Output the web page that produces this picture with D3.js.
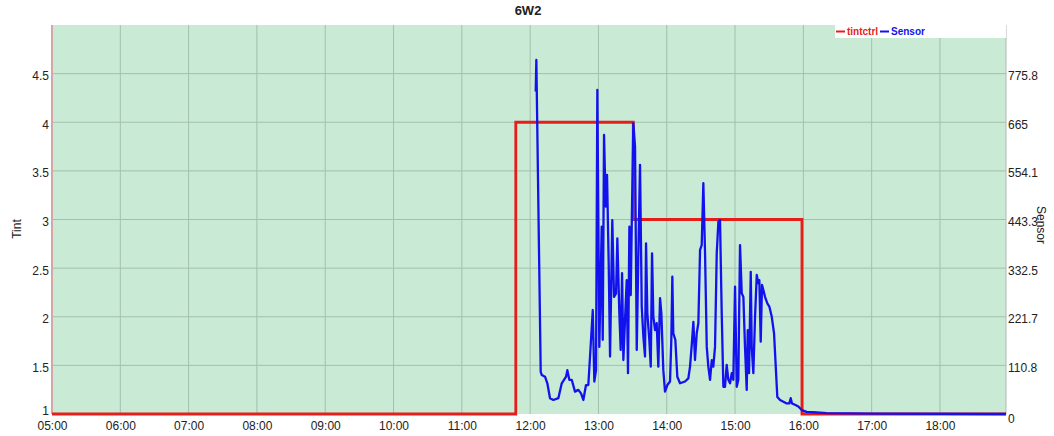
<!DOCTYPE html>
<html>
<head>
<meta charset="utf-8">
<script src="https://cdn.jsdelivr.net/npm/d3@7"></script>
<style>
    body { margin: 0; background: #fff; }
    text { font-family: "Liberation Sans", Arial, sans-serif; }
</style>
</head>
<body>
<div id="grafico"></div>
<script>
// horas del eje x (decimal) y sus etiquetas
var horas = [5, 6, 7, 8, 9, 10, 11, 12, 13, 14, 15, 16, 17, 18];
var etiquetasHoras = ["05:00", "06:00", "07:00", "08:00", "09:00", "10:00", "11:00", "12:00", "13:00", "14:00", "15:00", "16:00", "17:00", "18:00"];

var ticksTint = [1, 1.5, 2, 2.5, 3, 3.5, 4, 4.5];
var ticksSensor = [0, 110.8, 221.7, 332.5, 443.3, 554.1, 665, 775.8];

// tintctrl (escalonado)
var tintTiempos = [5, 11.79, 13.51, 15.98, 18.967];
var tintValores = [1, 4, 3, 1, 1];

// Sensor
var sensorTiempos = [12.082, 12.091, 12.155, 12.170, 12.218, 12.252, 12.291, 12.340, 12.413, 12.463,
    12.526, 12.545, 12.574, 12.609, 12.657, 12.706, 12.745, 12.779, 12.818, 12.852,
    12.877, 12.917, 12.940, 12.965, 12.984, 13.013, 13.048, 13.063, 13.082, 13.107,
    13.126, 13.151, 13.170, 13.203, 13.228, 13.258, 13.277, 13.306, 13.326, 13.346,
    13.365, 13.389, 13.414, 13.433, 13.453, 13.473, 13.488, 13.511, 13.536, 13.561,
    13.584, 13.609, 13.634, 13.658, 13.682, 13.697, 13.716, 13.745, 13.766, 13.785,
    13.804, 13.829, 13.853, 13.877, 13.902, 13.921, 13.950, 13.975, 14.009, 14.048,
    14.067, 14.082, 14.096, 14.126, 14.155, 14.195, 14.268, 14.316, 14.341, 14.366,
    14.390, 14.414, 14.439, 14.463, 14.488, 14.512, 14.536, 14.561, 14.586, 14.609,
    14.634, 14.659, 14.682, 14.707, 14.732, 14.756, 14.780, 14.805, 14.829, 14.853,
    14.878, 14.902, 14.927, 14.952, 14.975, 15.000, 15.025, 15.048, 15.073, 15.098,
    15.122, 15.146, 15.171, 15.186, 15.205, 15.230, 15.244, 15.268, 15.293, 15.318,
    15.341, 15.356, 15.376, 15.395, 15.414, 15.439, 15.473, 15.502, 15.537, 15.571,
    15.596, 15.619, 15.659, 15.757, 15.795, 15.815, 15.834, 15.878, 15.927, 15.976,
    16.050, 16.146, 16.343, 17.000, 18.967];
var sensorValores = [735, 807, 96, 89, 85, 70, 36, 32, 36, 70,
    85, 100, 78, 78, 51, 55, 47, 32, 66, 66,
    131, 237, 74, 100, 739, 153, 427, 169, 636, 473,
    545, 336, 131, 442, 267, 275, 400, 230, 146, 321,
    123, 214, 305, 93, 427, 271, 435, 663, 609, 146,
    359, 568, 245, 176, 131, 389, 230, 169, 108, 366,
    222, 191, 207, 108, 264, 230, 100, 51, 66, 74,
    169, 313, 184, 169, 85, 70, 74, 81, 108, 157,
    210, 123, 184, 207, 374, 385, 526, 366, 153, 108,
    78, 123, 108, 153, 366, 438, 442, 230, 62, 62,
    112, 78, 70, 93, 78, 290, 62, 78, 385, 275,
    267, 153, 55, 191, 93, 324, 153, 93, 222, 317,
    298, 305, 165, 294, 283, 267, 252, 245, 222, 184,
    108, 39, 32, 24, 24, 36, 24, 21, 17, 9,
    5, 4, 2, 1, 0];

var ancho = 1054, alto = 436;
var margen = { top: 25, right: 48, bottom: 22, left: 52 };
var colorTexto = "#222";

var svg = d3.select("#grafico").append("svg")
    .attr("width", ancho)
    .attr("height", alto);

var x = d3.scaleLinear().domain([5, 18.967]).range([margen.left, ancho - margen.right]);
var yTint = d3.scaleLinear().domain([1, 5]).range([alto - margen.bottom, margen.top]);
var ySensor = d3.scaleLinear().domain([0, 886.67]).range([alto - margen.bottom, margen.top]);

// fondo
svg.append("rect")
    .attr("x", x.range()[0])
    .attr("y", margen.top)
    .attr("width", x.range()[1] - x.range()[0])
    .attr("height", yTint.range()[0] - margen.top)
    .attr("fill", "#c9ead5");

// rejilla
var rejilla = svg.append("g").attr("class", "rejilla");
rejilla.selectAll("line.v")
    .data(horas.slice(1))
    .enter().append("line")
    .attr("class", "v")
    .attr("x1", function (d) { return x(d); })
    .attr("x2", function (d) { return x(d); })
    .attr("y1", margen.top)
    .attr("y2", yTint.range()[0])
    .attr("stroke", "#a3c0ac")
    .attr("stroke-width", 1);
rejilla.selectAll("line.h")
    .data(ticksTint.slice(1))
    .enter().append("line")
    .attr("class", "h")
    .attr("x1", x.range()[0])
    .attr("x2", x.range()[1])
    .attr("y1", function (d) { return yTint(d); })
    .attr("y2", function (d) { return yTint(d); })
    .attr("stroke", "#a3c0ac")
    .attr("stroke-width", 1);

// ejes
svg.append("line")
    .attr("x1", x.range()[1]).attr("x2", x.range()[1])
    .attr("y1", margen.top).attr("y2", yTint.range()[0])
    .attr("stroke", "#b5b5b5");
svg.append("line")
    .attr("x1", x.range()[0]).attr("x2", x.range()[0])
    .attr("y1", margen.top).attr("y2", yTint.range()[0])
    .attr("stroke", "#d6a6a6")
    .attr("stroke-width", 2);

var ejeX = d3.axisBottom(x)
    .tickValues(horas)
    .tickSize(0)
    .tickFormat(function (d, i) { return etiquetasHoras[i]; });
var gx = svg.append("g")
    .attr("transform", "translate(0," + yTint.range()[0] + ")")
    .call(ejeX);
gx.select(".domain").remove();
gx.selectAll("text").attr("dy", "1.05em").attr("font-size", 12).attr("fill", colorTexto);

var ejeTint = d3.axisLeft(yTint).tickValues(ticksTint).tickSize(0).tickPadding(3).tickFormat(function (d) { return d; });
var gl = svg.append("g")
    .attr("transform", "translate(" + x.range()[0] + ",0)")
    .call(ejeTint);
gl.select(".domain").remove();
gl.selectAll("text").attr("font-size", 12).attr("fill", colorTexto)
    .attr("dy", function (d) { return d === 1 ? "0" : "0.5em"; });

var ejeSensor = d3.axisRight(ySensor).tickValues(ticksSensor).tickSize(0).tickPadding(2).tickFormat(function (d) { return d; });
var gr = svg.append("g")
    .attr("transform", "translate(" + x.range()[1] + ",0)")
    .call(ejeSensor);
gr.select(".domain").remove();
gr.selectAll("text").attr("font-size", 12).attr("fill", colorTexto)
    .attr("dy", function (d) { return d === 0 ? "0.7em" : "0.5em"; });

// lineas
var datosTint = tintTiempos.map(function (t, i) { return { t: t, v: tintValores[i] }; });
var datosSensor = sensorTiempos.map(function (t, i) { return { t: t, v: sensorValores[i] }; });

svg.append("path")
    .datum(datosTint)
    .attr("fill", "none")
    .attr("stroke", "#e61e1a")
    .attr("stroke-width", 2.8)
    .attr("d", d3.line()
        .curve(d3.curveStepAfter)
        .x(function (d) { return x(d.t); })
        .y(function (d) { return yTint(d.v); }));

svg.append("path")
    .datum(datosSensor)
    .attr("fill", "none")
    .attr("stroke", "#1212ee")
    .attr("stroke-width", 2.3)
    .attr("stroke-linejoin", "round")
    .attr("d", d3.line()
        .x(function (d) { return x(d.t); })
        .y(function (d) { return ySensor(d.v); }));

// titulo y etiquetas
svg.append("text")
    .attr("x", 528).attr("y", 15)
    .attr("text-anchor", "middle")
    .attr("font-size", 13)
    .attr("font-weight", "bold")
    .attr("fill", colorTexto)
    .text("6W2");

svg.append("text")
    .attr("transform", "translate(21,229) rotate(-90)")
    .attr("text-anchor", "middle")
    .attr("font-size", 12)
    .attr("fill", colorTexto)
    .text("Tint");

svg.append("text")
    .attr("transform", "translate(1037,225) rotate(90)")
    .attr("text-anchor", "middle")
    .attr("font-size", 12)
    .attr("fill", colorTexto)
    .text("Sensor");

// leyenda
var leyenda = svg.append("g");
leyenda.append("rect")
    .attr("x", 835).attr("y", margen.top)
    .attr("width", x.range()[1] - 835).attr("height", 13)
    .attr("fill", "#fff");
var series = [{ nombre: "tintctrl", color: "#e61e1a", x: 836 }, { nombre: "Sensor", color: "#1212ee", x: 880 }];
series.forEach(function (s) {
    leyenda.append("line")
        .attr("x1", s.x).attr("x2", s.x + 9)
        .attr("y1", 31.5).attr("y2", 31.5)
        .attr("stroke", s.color)
        .attr("stroke-width", 2);
    leyenda.append("text")
        .attr("x", s.x + 11).attr("y", 35)
        .attr("font-size", 10)
        .attr("font-weight", "bold")
        .attr("fill", s.color)
        .text(s.nombre);
});
</script>
</body>
</html>
